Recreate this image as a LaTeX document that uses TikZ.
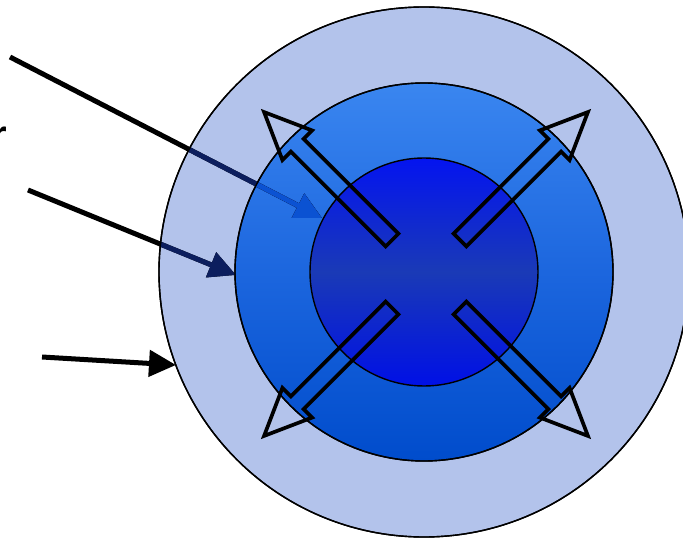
\documentclass[tikz,border=0pt]{standalone}
\usepackage{fontspec}
\setmainfont{Liberation Sans}
\usetikzlibrary{arrows.meta}
\definecolor{ringout}{HTML}{B3C3EB}
\definecolor{midtop}{HTML}{3A86F0}
\definecolor{midmid}{HTML}{1C66DE}
\definecolor{midbot}{HTML}{004CCC}
\definecolor{inntop}{HTML}{0414F0}
\definecolor{innmid}{HTML}{1A3AB6}
\definecolor{innbot}{HTML}{0010E6}
\definecolor{navyline}{HTML}{0C1E5E}
\definecolor{blueline}{HTML}{0B52D2}
\tikzset{
  ring/.style={circle, draw=black, line width=1.4pt, inner sep=0pt},
  pointer/.style={line width=5pt, -{Triangle[length=27pt,width=26pt]}},
  blockarrow/.style={draw=black, line width=3.7pt, line join=miter},
}
\begin{document}
\begin{tikzpicture}[x=1pt,y=1pt]
\useasboundingbox (0,0) rectangle (683,539);
\clip (0,0) rectangle (683,539);
% partial label at left edge
\node[anchor=base west, inner sep=0pt, font=\fontsize{40}{40}\selectfont\bfseries] (lbl) at (-9,390) {r};
% circles
\node[ring, fill=ringout, minimum size=530pt] (outer) at (424,267) {};
\node[ring, top color=midtop, bottom color=midbot, middle color=midmid, minimum size=378pt] (middle) at (424,267) {};
\node[ring, top color=inntop, bottom color=innbot, middle color=innmid, minimum size=228pt] (inner) at (424,267) {};
% pointer coordinates
\coordinate (s1) at (10,482);
\coordinate (t1) at (322,321);
\coordinate (s2) at (28,349);
\coordinate (t2) at (236,264);
\coordinate (s3) at (42,182);
\coordinate (t3) at (176,174);
% pointers, black outside
\draw[pointer, black] (s1) -- (t1);
\draw[pointer, black] (s2) -- (t2);
\draw[pointer, black] (s3) -- (t3);
% inside outer ring: navy
\begin{scope}
  \clip (outer.center) circle (264.3pt);
  \draw[pointer, navyline] (s1) -- (t1);
  \draw[pointer, navyline] (s2) -- (t2);
\end{scope}
% inside middle ring: blue
\begin{scope}
  \clip (middle.center) circle (188.3pt);
  \draw[pointer, blueline] (s1) -- (t1);
\end{scope}
% redraw ring outlines over pointers
\draw[line width=1.4pt] (outer.center) circle (265pt);
\draw[line width=1.4pt] (middle.center) circle (189pt);
% block arrows
\coordinate (ac) at (426,265);
\foreach \ang in {45,135,225,315}{
  \begin{scope}[shift={(ac)}, rotate=\ang]
    \draw[blockarrow] (48,-9) -- (182,-9) -- (182,-21) -- (229,0) -- (182,21) -- (182,9) -- (48,9) -- cycle;
  \end{scope}
}
\end{tikzpicture}
\end{document}
